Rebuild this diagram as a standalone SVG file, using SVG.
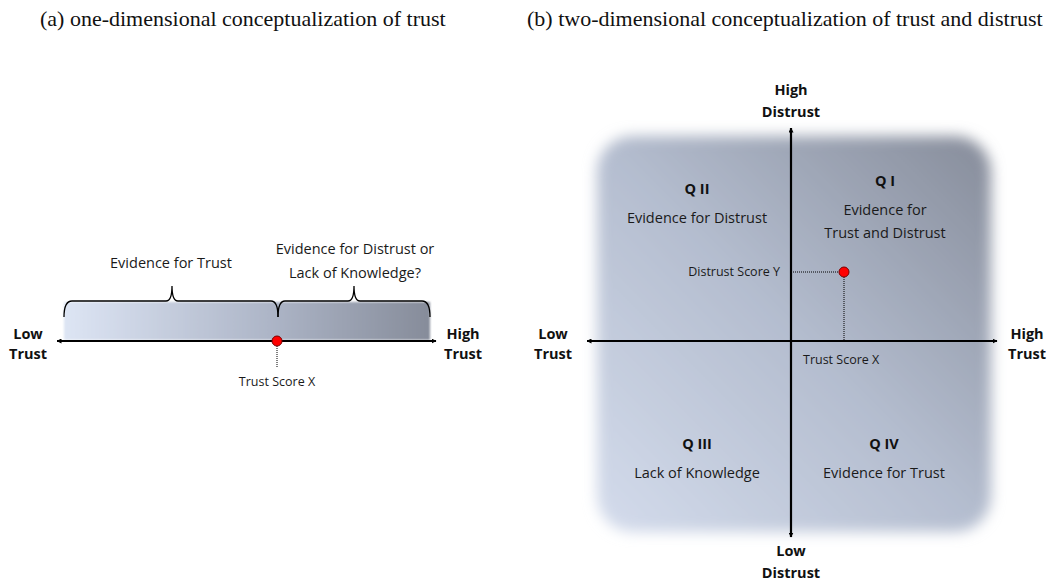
<svg xmlns="http://www.w3.org/2000/svg" width="1056" height="582" viewBox="0 0 1056 582">
<style>
.title{font-family:"Liberation Serif","Times New Roman",serif;font-size:22px;fill:#111}
.lbl{font-family:"Open Sans","Liberation Sans",sans-serif;font-size:14.5px;fill:#1a1a1a;text-anchor:middle}
.bold{font-family:"Open Sans","Liberation Sans",sans-serif;font-size:14.5px;font-weight:bold;fill:#111;text-anchor:middle}
.small{font-family:"Open Sans","Liberation Sans",sans-serif;font-size:12.5px;fill:#1a1a1a}
.axis{stroke:#000;stroke-width:2.2;fill:none}
.dot{stroke:#000;stroke-width:1;stroke-dasharray:1 1;fill:none}
.br{stroke:#000;stroke-width:1.3;fill:none}
.pt{fill:#ff0000;stroke:#7a0000;stroke-width:1}
</style>
<defs>
<marker id="ah" viewBox="0 0 10 10" refX="9" refY="5" markerWidth="5" markerHeight="5" orient="auto-start-reverse" markerUnits="userSpaceOnUse">
<path d="M0,0 L10,5 L0,10 z" fill="#000"/>
</marker>
<linearGradient id="g1" x1="0" y1="0" x2="1" y2="0">
<stop offset="0" stop-color="#dde5f4"/>
<stop offset="0.55" stop-color="#aeb6c8"/>
<stop offset="1" stop-color="#868c9a"/>
</linearGradient>
<linearGradient id="g2" x1="0" y1="1" x2="1" y2="0">
<stop offset="0" stop-color="#d4dcec"/>
<stop offset="0.5" stop-color="#b4bdcf"/>
<stop offset="1" stop-color="#868c9a"/>
</linearGradient>
<filter id="blur" x="-10%" y="-10%" width="120%" height="120%">
<feGaussianBlur stdDeviation="7"/>
</filter>
<filter id="blur2" x="-5%" y="-30%" width="110%" height="160%">
<feGaussianBlur stdDeviation="1.2"/>
</filter>
</defs>

<text class="title" x="40" y="26">(a) one-dimensional conceptualization of trust</text>
<text class="title" x="527" y="26">(b) two-dimensional conceptualization of trust and distrust</text>

<g id="panel-a">
<rect x="64" y="302" width="366" height="38" fill="url(#g1)" filter="url(#blur2)"/>
</g>

<g id="panel-b-bg">
<rect x="597" y="136" width="394" height="396" rx="36" fill="url(#g2)" filter="url(#blur)"/>
</g>

<g id="connectors">
<line class="axis" x1="57" y1="341" x2="436" y2="341" marker-start="url(#ah)" marker-end="url(#ah)"/>
<line class="axis" x1="587" y1="341" x2="997" y2="341" marker-start="url(#ah)" marker-end="url(#ah)"/>
<line class="axis" x1="791" y1="128" x2="791" y2="537" marker-start="url(#ah)" marker-end="url(#ah)"/>
<line class="dot" x1="277" y1="346" x2="277" y2="368"/>
<line class="dot" x1="793" y1="272" x2="839" y2="272"/>
<line class="dot" x1="844" y1="277" x2="844" y2="340"/>
</g>

<g id="brackets">
<path class="br" d="M64,317 Q64,301 72,301 L166,301 Q172,301 172,286 Q172,301 178,301 L271,301 Q278,301 278,317"/>
<path class="br" d="M278,317 Q278,301 285,301 L348,301 Q354,301 354,286 Q354,301 360,301 L422,301 Q430,301 430,317"/>
</g>

<g id="labels-a">
<text class="lbl" x="171" y="268">Evidence for Trust</text>
<text class="lbl" x="355" y="254">Evidence for Distrust or</text>
<text class="lbl" x="355" y="278">Lack of Knowledge?</text>
<text class="bold" x="28" y="339">Low</text>
<text class="bold" x="28" y="359">Trust</text>
<text class="bold" x="463" y="339">High</text>
<text class="bold" x="463" y="359">Trust</text>
<text class="small" x="277" y="386" text-anchor="middle">Trust Score X</text>
</g>
<g id="point-a"><circle class="pt" cx="277" cy="341" r="5"/></g>

<g id="labels-b">
<text class="bold" x="791" y="95">High</text>
<text class="bold" x="791" y="117">Distrust</text>
<text class="bold" x="791" y="556">Low</text>
<text class="bold" x="791" y="578">Distrust</text>
<text class="bold" x="553" y="339">Low</text>
<text class="bold" x="553" y="359">Trust</text>
<text class="bold" x="1027" y="339">High</text>
<text class="bold" x="1027" y="359">Trust</text>
</g>
<g id="q2"><text class="bold" x="697" y="194">Q II</text><text class="lbl" x="697" y="223">Evidence for Distrust</text></g>
<g id="q1"><text class="bold" x="885" y="186">Q I</text><text class="lbl" x="885" y="215">Evidence for</text><text class="lbl" x="885" y="238">Trust and Distrust</text></g>
<g id="q3"><text class="bold" x="697" y="449">Q III</text><text class="lbl" x="697" y="478">Lack of Knowledge</text></g>
<g id="q4"><text class="bold" x="884" y="449">Q IV</text><text class="lbl" x="884" y="478">Evidence for Trust</text></g>
<g id="scores-b">
<text class="small" x="780" y="276" text-anchor="end">Distrust Score Y</text>
<text class="small" x="803" y="364">Trust Score X</text>
<circle class="pt" cx="844" cy="272" r="5"/>
</g>
</svg>
